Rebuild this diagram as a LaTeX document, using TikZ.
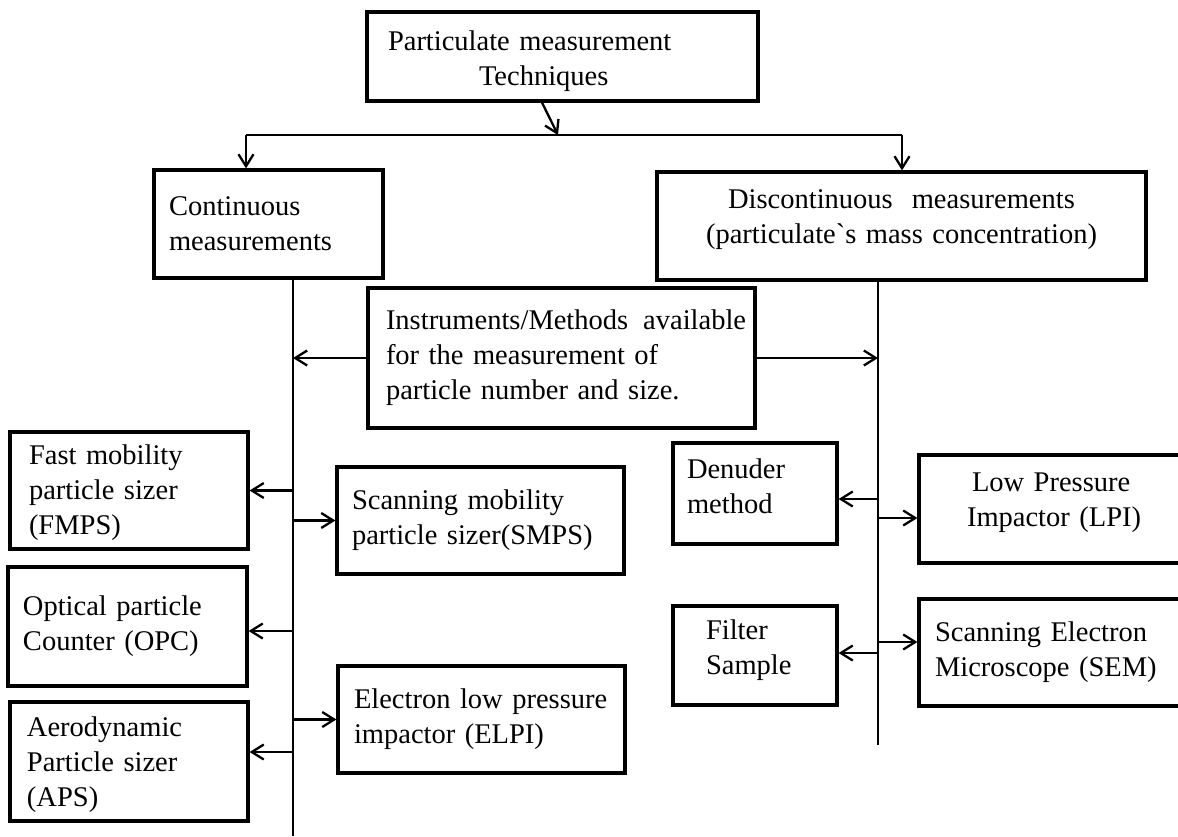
\documentclass[tikz,border=0pt]{standalone}
\usepackage{fontspec}
\setmainfont{Liberation Serif}
\usetikzlibrary{arrows.meta}
\newcommand\myht[1]{\rule{0pt}{#1}}
\newcommand\mydp[1]{\rule[-#1]{0pt}{#1}}
\begin{document}
\begin{tikzpicture}[x=1pt,y=-1pt,
  box/.style={draw, line width=3.2pt, rectangle, align=left, inner ysep=0pt,
    font=\fontsize{28.5pt}{35pt}\selectfont},
  bx/.style n args={4}{minimum width=#1, minimum height=#2, inner xsep=#3, text width=#4},
  conn/.style={line width=2.3pt},
  arr/.style={conn, -{Straight Barb[length=12pt,width=15pt]}}]
\fill[white] (0,0) rectangle (1178,836);
\useasboundingbox (0,0) rectangle (1178,836);

% boxes
\node[box, bx={391pt}{89pt}{21pt}{349pt}] (top) at (562.5,56.5)
  {\myht{29.3pt}Particulate measurement\\\hspace*{91pt}Techniques};
\node[box, bx={229pt}{108pt}{15pt}{199pt}] (cont) at (268.5,224)
  {Continuous\\measurements};
\node[box, bx={489pt}{108pt}{10pt}{469pt}, align=center] (disc) at (901.5,226)
  {\mbox{Discontinuous\hspace{19pt}measurements}\\\mbox{(particulate\textasciigrave s mass concentration)}\mydp{18.2pt}};
\node[box, bx={387pt}{140pt}{18pt}{351pt}] (mid) at (561.5,358)
  {\mbox{Instruments/Methods\hspace{15pt}available}\\\mbox{for the measurement of}\\\mbox{particle number and size.}};
\node[box, bx={238pt}{117pt}{19pt}{200pt}] (fmps) at (129,490.5)
  {\myht{24pt}Fast mobility\\\mbox{particle sizer}\\(FMPS)};
\node[box, bx={287pt}{107pt}{15pt}{257pt}] (smps) at (480.5,520.5)
  {\mbox{Scanning mobility}\\\mbox{particle sizer(SMPS)}};
\node[box, bx={239pt}{119pt}{15pt}{209pt}] (opc) at (127.5,626.5)
  {\mbox{Optical particle}\\\mbox{Counter (OPC)}};
\node[box, bx={287pt}{107pt}{16pt}{255pt}] (elpi) at (481.5,719.5)
  {\mbox{Electron low pressure}\\\mbox{impactor (ELPI)}};
\node[box, bx={238pt}{119pt}{17pt}{204pt}] (aps) at (129,761.5)
  {\myht{25.5pt}Aerodynamic\\\mbox{Particle sizer}\\(APS)};
\node[box, bx={164pt}{101pt}{14pt}{136pt}] (den) at (755,493.5)
  {Denuder\\method\mydp{15.5pt}};
\node[box, bx={281pt}{108pt}{48pt}{185pt}] (lpi) at (1059.5,509)
  {\hspace*{5pt}\mbox{Low Pressure}\\\mbox{Impactor (LPI)}\mydp{17.9pt}};
\node[box, bx={164pt}{99pt}{33pt}{98pt}] (fil) at (755,655.5)
  {Filter\\Sample\mydp{17.5pt}};
\node[box, bx={281pt}{107pt}{16pt}{249pt}] (sem) at (1059.5,652.5)
  {\mbox{Scanning Electron}\\\mbox{Microscope (SEM)}};

% junction points
\coordinate (jn) at (558,135);
\coordinate (jl) at (246,135);
\coordinate (jr) at (902,135);
\coordinate (lb) at (293,836);
\coordinate (rb) at (878,745);

% top level
\draw[arr] ([xshift=-20.5pt]top.south) -- (jn);
\draw[conn] (jl) -- (jr);
\draw[arr] (jl) -- (jl |- cont.north);
\draw[arr] (jr) -- (jr |- disc.north);
\draw[conn] (cont.south -| lb) -- (lb);
\draw[conn] (disc.south -| rb) -- (rb);
\draw[arr] (mid.west) -- (mid.west -| lb);
\draw[arr] (mid.east) -- (mid.east -| rb);

% left branch
\coordinate (opcP) at ([yshift=-4.5pt]opc.east);
\coordinate (apsP) at ([yshift=9.5pt]aps.east);
\draw[arr] (fmps.east -| lb) -- (fmps.east);
\draw[arr] (smps.west -| lb) -- (smps.west);
\draw[arr] (opcP -| lb) -- (opcP);
\draw[arr] (elpi.west -| lb) -- (elpi.west);
\draw[arr] (apsP -| lb) -- (apsP);

% right branch
\coordinate (denP) at ([yshift=-5.5pt]den.east);
\coordinate (lpiP) at ([yshift=-9pt]lpi.west);
\coordinate (filP) at ([yshift=2.5pt]fil.east);
\coordinate (semP) at ([yshift=10.5pt]sem.west);
\draw[arr] (denP -| rb) -- (denP);
\draw[arr] (lpiP -| rb) -- (lpiP);
\draw[arr] (filP -| rb) -- (filP);
\draw[arr] (semP -| rb) -- (semP);
\end{tikzpicture}
\end{document}
